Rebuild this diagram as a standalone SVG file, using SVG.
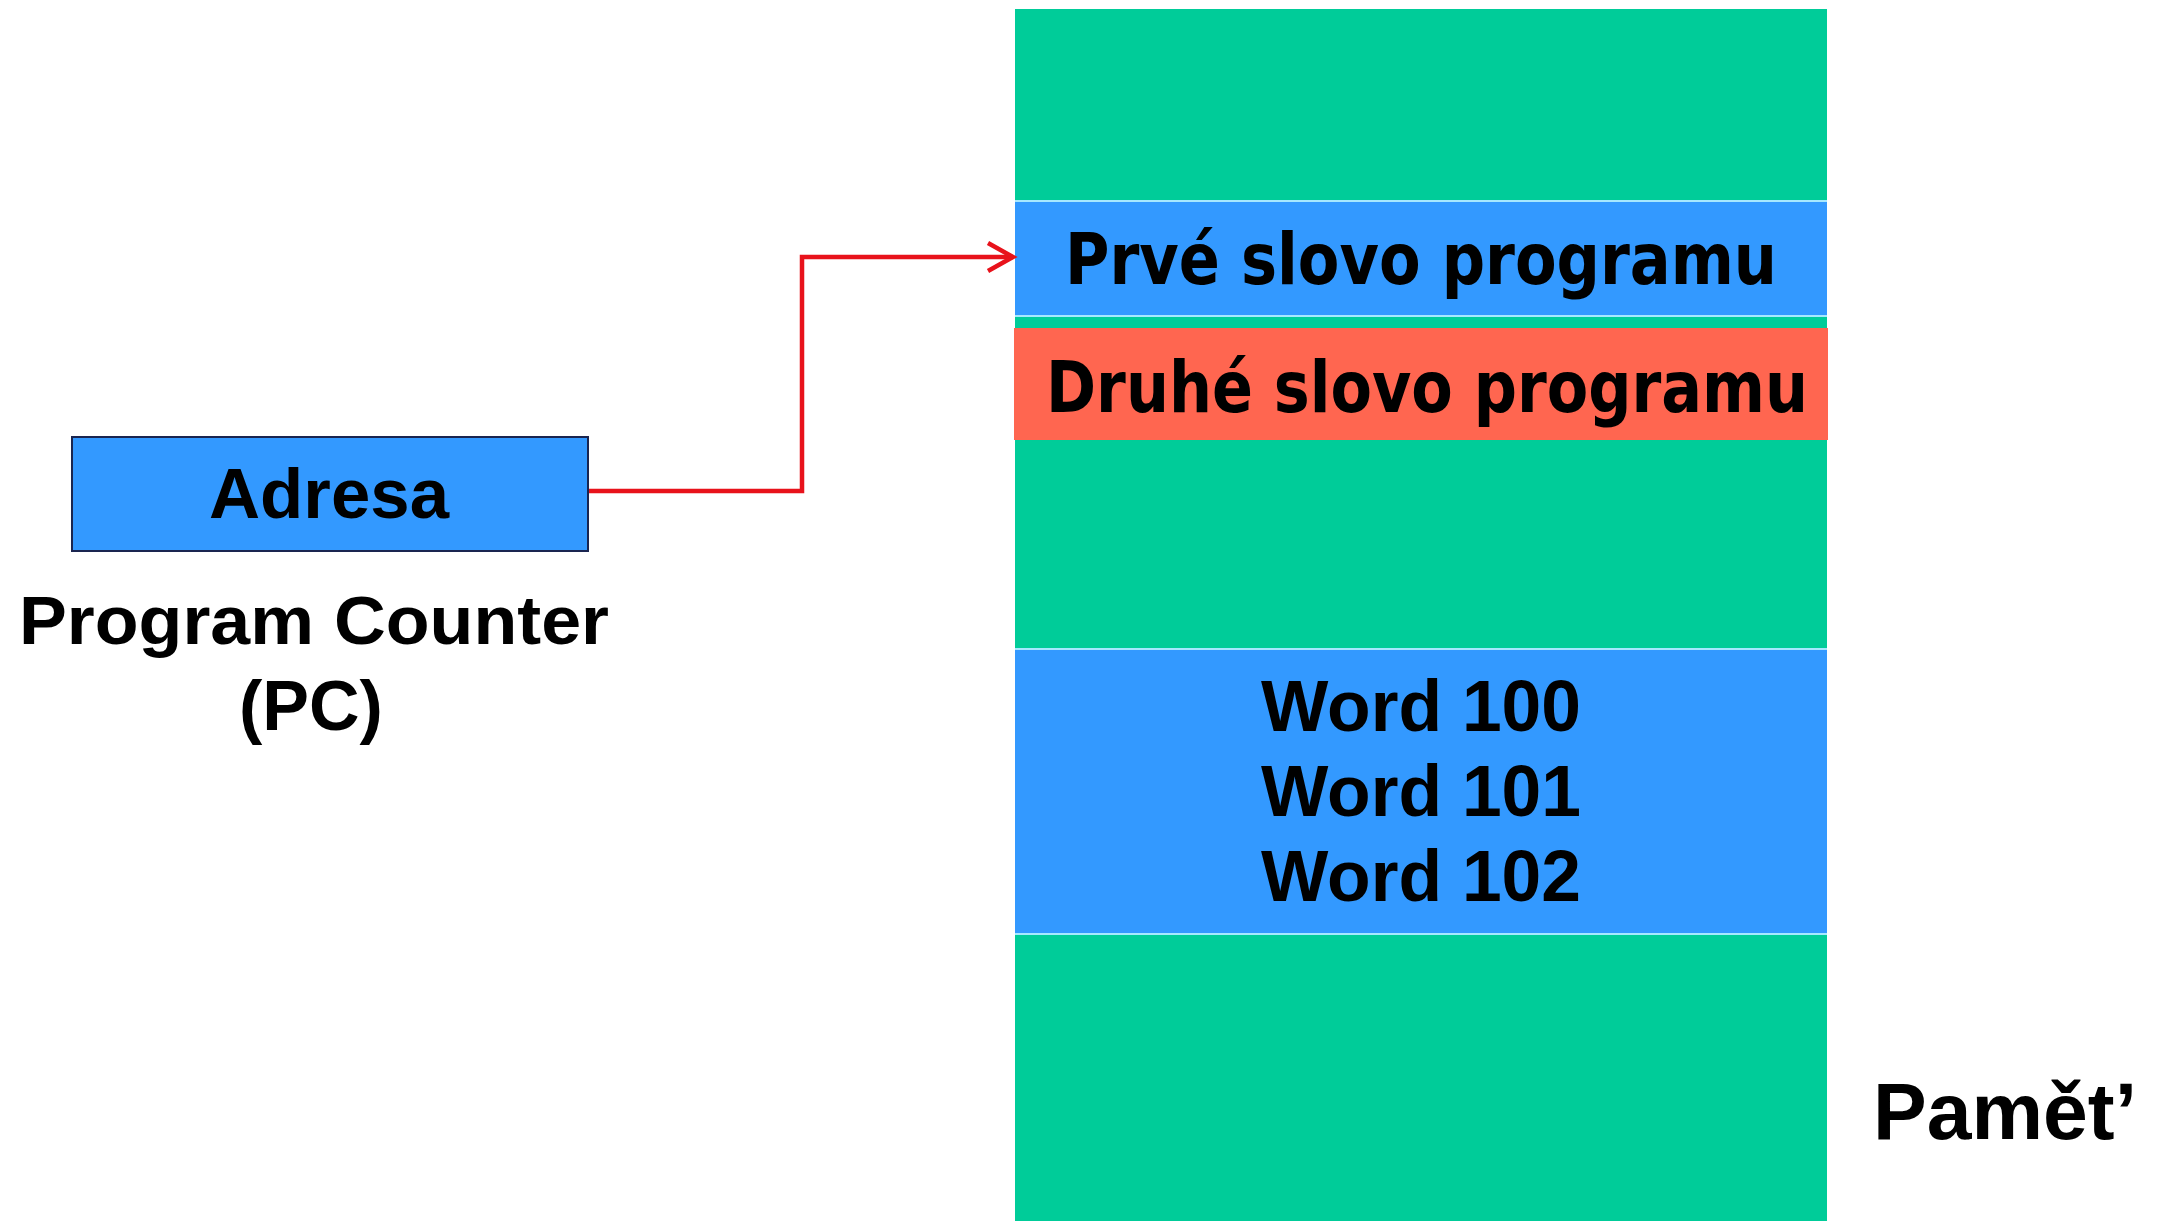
<svg xmlns="http://www.w3.org/2000/svg" width="2159" height="1221" viewBox="0 0 2159 1221">
  <style>
    .t { font-family: "Liberation Sans", Arial, sans-serif; font-weight: bold; fill: #000; text-anchor: middle; }
    .tb { font-family: "DejaVu Sans", "Liberation Sans", sans-serif; font-weight: bold; fill: #000; text-anchor: middle; }
    .green { fill: #00CC99; }
    .blue { fill: #3399FF; }
    .sep { stroke: #A6E8FF; stroke-width: 2; }
  </style>
  <defs>
    <marker id="arrow" markerUnits="userSpaceOnUse" markerWidth="36" markerHeight="36" refX="31" refY="18" orient="auto">
      <path d="M6,4 L31,18 L6,32" fill="none" stroke="#E8121B" stroke-width="4.5"/>
    </marker>
  </defs>
  <rect width="2159" height="1221" fill="#FFFFFF"/>

  <g id="memory">
    <rect class="green" x="1015" y="9" width="812" height="1212"/>
    <g id="first-word">
      <rect class="blue" x="1015" y="201" width="812" height="114"/>
      <line class="sep" x1="1015" y1="201" x2="1827" y2="201"/>
      <line class="sep" x1="1015" y1="316" x2="1827" y2="316"/>
      <text class="tb" x="1421" y="284" font-size="72" textLength="712" lengthAdjust="spacingAndGlyphs">Prvé slovo programu</text>
    </g>
    <g id="second-word">
      <rect x="1014" y="328" width="814" height="112" fill="#FF6650"/>
      <text class="tb" x="1427" y="412" font-size="72" textLength="762" lengthAdjust="spacingAndGlyphs">Druhé slovo programu</text>
    </g>
    <g id="words">
      <rect class="blue" x="1015" y="649" width="812" height="284"/>
      <line class="sep" x1="1015" y1="649" x2="1827" y2="649"/>
      <line class="sep" x1="1015" y1="934" x2="1827" y2="934"/>
      <text class="t" x="1421" y="731" font-size="72" textLength="320" lengthAdjust="spacingAndGlyphs">Word 100</text>
      <text class="t" x="1421" y="816" font-size="72" textLength="320" lengthAdjust="spacingAndGlyphs">Word 101</text>
      <text class="t" x="1421" y="901" font-size="72" textLength="320" lengthAdjust="spacingAndGlyphs">Word 102</text>
    </g>
  </g>

  <g id="pc">
    <rect x="72" y="437" width="516" height="114" fill="#3399FF" stroke="#1A2550" stroke-width="2"/>
    <text class="t" x="329" y="518" font-size="70" textLength="240" lengthAdjust="spacingAndGlyphs">Adresa</text>
    <text class="t" x="314" y="644" font-size="68" textLength="590" lengthAdjust="spacingAndGlyphs">Program Counter</text>
    <text class="t" x="311" y="730" font-size="70">(PC)</text>
  </g>

  <g id="memory-label">
    <text class="t" x="2005" y="1139" font-size="80" textLength="264" lengthAdjust="spacingAndGlyphs">Pamět’</text>
  </g>

  <g id="connectors">
    <path d="M589,491 H802 V257 H1013" fill="none" stroke="#E8121B" stroke-width="4.5" marker-end="url(#arrow)"/>
  </g>
</svg>
